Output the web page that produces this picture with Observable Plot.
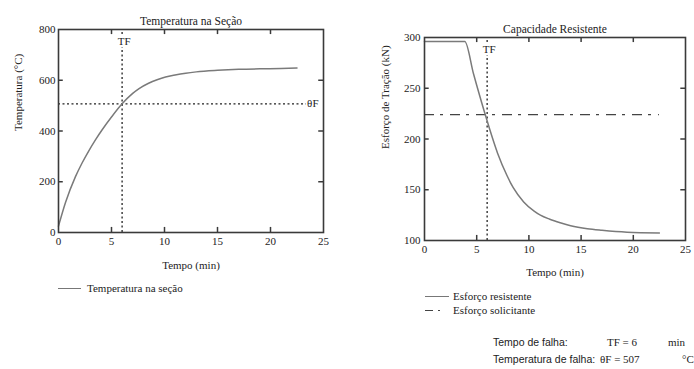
<!DOCTYPE html>
<html>
<head>
<meta charset="utf-8">
<script src="https://cdn.jsdelivr.net/npm/d3@7"></script>
<script src="https://cdn.jsdelivr.net/npm/@observablehq/plot@0.6"></script>
<style>
  html, body { margin: 0; padding: 0; background: #fff; }
  #wrap { position: relative; width: 694px; height: 369px; overflow: hidden; background: #fff; font-family: 'Liberation Serif', 'DejaVu Serif', serif; color: #222; }
  #p1, #p2 { position: absolute; top: 0; }
  #p1 { left: 0; }
  #p2 { left: 345px; }
  #wrap svg, #wrap svg text { font-family: 'Liberation Serif', 'DejaVu Serif', serif !important; }
  .txt { position: absolute; font-size: 11px; line-height: 12px; white-space: nowrap; font-family: 'Liberation Serif', 'DejaVu Serif', serif; }
  .sans { font-family: 'Liberation Sans', Arial, sans-serif; }
  .lg { position: absolute; height: 0; border-top: 1.5px solid #777; }
</style>
</head>
<body>
<div id="wrap">
  <div id="p1"></div>
  <div id="p2"></div>
</div>
<script>
// ---------- data ----------
const xTicks = [0, 5, 10, 15, 20, 25];
const innerXTicks = [5, 10, 15, 20];

// Left chart: temperature in the section
const tempTitle = "Temperatura na Seção";
const tempYLabel = "Temperatura (°C)";
const tempYTicks = [0, 200, 400, 600, 800];
const tempInnerYTicks = [200, 400, 600];
const tempTime = [0, 0.66, 1.6, 2.2, 2.86, 3.5, 4.12, 5, 6, 7, 7.6, 8.5, 9.3, 10.1, 11, 12, 13, 15, 17, 19, 21, 22.5];
const tempValue = [25, 118, 220, 272, 322, 366, 405, 455, 507, 548, 567, 588, 602, 613, 621, 628, 633, 639, 643, 645, 646, 648];

// Right chart: resisting capacity
const capTitle = "Capacidade Resistente";
const capYLabel = "Esforço de Tração (kN)";
const capYTicks = [100, 150, 200, 250, 300];
const capInnerYTicks = [150, 200, 250];
const capTime = [0, 3.86, 4.7, 5.7, 6.2, 7.0, 7.9, 8.5, 9.5, 10.5, 11.1, 12, 13, 14, 15.6, 17, 19.4, 22.5];
const capValue = [296, 296, 264, 228, 211, 186, 164, 152, 138, 129, 125, 121, 117.5, 114.5, 111.5, 110, 108.2, 107.5];
const solicitante = 224;
const solicEnd = 22.5;

// failure values
const TF = 6;
const thetaF = 507;
const thetaFLineEnd = 23.4;

const xLabel = "Tempo (min)";
const legend1 = ["Temperatura na seção"];
const legend2 = ["Esforço resistente", "Esforço solicitante"];
const infoRows = [
  ["Tempo de falha:", "TF = 6", "min"],
  ["Temperatura de falha:", "θF = 507", "°C"]
];

// ---------- helpers ----------
const FONT = "'Liberation Serif', 'DejaVu Serif', serif";
const curveColor = "#7a7a7a";
const frameColor = "#3a3a3a";
const textColor = "#222";
const styleObj = { fontFamily: FONT, fontSize: "11px", color: textColor, background: "#fff", overflow: "visible" };

function tickMarks(yDomain, innerY, xLen, yLen) {
  const [y0, y1] = yDomain;
  return [
    Plot.ruleX(innerXTicks, { x: d => d, y1: y0, y2: y0 + yLen, stroke: frameColor, strokeWidth: 1.5 }),
    Plot.ruleX(innerXTicks, { x: d => d, y1: y1, y2: y1 - yLen, stroke: frameColor, strokeWidth: 1.5 }),
    Plot.ruleY(innerY, { y: d => d, x1: 0, x2: xLen, stroke: frameColor, strokeWidth: 1.5 }),
    Plot.ruleY(innerY, { y: d => d, x1: 25, x2: 25 - xLen, stroke: frameColor, strokeWidth: 1.5 })
  ];
}
function axes(yTicks, yPad) {
  return [
    Plot.axisX(xTicks, { tickSize: 0, tickPadding: 5, label: null, fontFamily: FONT, fontSize: 11, fill: textColor }),
    Plot.axisY(yTicks, { tickSize: 0, tickPadding: yPad, label: null, fontFamily: FONT, fontSize: 11, fill: textColor })
  ];
}
function txt(s, opts) {
  return Plot.text([s], { fontFamily: FONT, fontSize: 11, fill: textColor, ...opts });
}

// ---------- left chart ----------
const tempData = tempTime.map((t, i) => ({ t, v: tempValue[i] }));
const p1 = Plot.plot({
  width: 345, height: 280,
  marginLeft: 58, marginRight: 22, marginTop: 29, marginBottom: 48,
  style: styleObj,
  x: { domain: [0, 25] },
  y: { domain: [0, 800] },
  marks: [
    ...axes(tempYTicks, 3),
    Plot.ruleY([thetaF], { x1: 0, x2: thetaFLineEnd, stroke: "#222", strokeWidth: 1.3, strokeDasharray: "2,2.5" }),
    Plot.ruleX([TF], { y1: 0, y2: 800, stroke: "#222", strokeWidth: 1.3, strokeDasharray: "2,2.5" }),
    Plot.line(tempData, { x: "t", y: "v", stroke: curveColor, strokeWidth: 1.5, curve: "monotone-x" }),
    ...tickMarks([0, 800], tempInnerYTicks, 0.45, 20),
    Plot.frame({ stroke: frameColor, strokeWidth: 1.6 }),
    txt("TF", { x: TF, frameAnchor: "top", dy: 8, dx: 2, stroke: "white", strokeWidth: 4 }),
    txt("θF", { y: thetaF, frameAnchor: "right", textAnchor: "end", dx: -5, stroke: "white", strokeWidth: 3 }),
    txt(tempTitle, { frameAnchor: "top", dy: -13, fontSize: 11.5 }),
    txt(tempYLabel, { frameAnchor: "left", dx: -40, rotate: -90 }),
    txt(xLabel, { frameAnchor: "bottom", dy: 36 })
  ]
});
document.getElementById("p1").appendChild(p1);

// ---------- right chart ----------
const capData = capTime.map((t, i) => ({ t, v: capValue[i] }));
const p2 = Plot.plot({
  width: 349, height: 290,
  marginLeft: 79, marginRight: 9, marginTop: 37, marginBottom: 50,
  style: styleObj,
  x: { domain: [0, 25] },
  y: { domain: [100, 300] },
  marks: [
    ...axes(capYTicks, 4),
    Plot.ruleY([solicitante], { x1: 0, x2: solicEnd, stroke: "#444", strokeWidth: 1.4, strokeDasharray: "10,6,3,7" }),
    Plot.ruleX([TF], { y1: 100, y2: 300, stroke: "#222", strokeWidth: 1.3, strokeDasharray: "2,2.5" }),
    Plot.line(capData, { x: "t", y: "v", stroke: curveColor, strokeWidth: 1.5, curve: "monotone-x" }),
    ...tickMarks([100, 300], capInnerYTicks, 0.45, 5),
    Plot.frame({ stroke: frameColor, strokeWidth: 1.6 }),
    txt("TF", { x: TF, frameAnchor: "top", dy: 8, dx: 2, stroke: "white", strokeWidth: 4 }),
    txt(capTitle, { frameAnchor: "top", dy: -13, fontSize: 11.5 }),
    txt(capYLabel, { frameAnchor: "left", dx: -39, dy: 10, rotate: -90 }),
    txt(xLabel, { frameAnchor: "bottom", dy: 35 })
  ]
});
document.getElementById("p2").appendChild(p2);

// ---------- legends & info (HTML) ----------
const wrap = document.getElementById("wrap");
function addDiv(cls, css, text) {
  const d = document.createElement("div");
  d.className = cls;
  Object.assign(d.style, css);
  if (text != null) d.textContent = text;
  wrap.appendChild(d);
  return d;
}
addDiv("lg", { left: "58px", top: "288px", width: "23px" });
addDiv("txt", { left: "87px", top: "282px" }, legend1[0]);

addDiv("lg", { left: "425px", top: "296px", width: "24px" });
addDiv("txt", { left: "453px", top: "290px" }, legend2[0]);
addDiv("lg", { left: "425px", top: "310px", width: "8px", borderTopColor: "#444" });
addDiv("lg", { left: "438px", top: "310px", width: "2px", borderTopColor: "#444" });
addDiv("txt", { left: "453px", top: "304px" }, legend2[1]);

const infoX = [493, 607, 668];
const infoX2 = [493, 600, 682];
infoRows.forEach((row, r) => {
  const top = r === 0 ? 336 : 353;
  const xs = r === 0 ? infoX : infoX2;
  addDiv("txt sans", { left: xs[0] + "px", top: top + "px", fontSize: "10.5px" }, row[0]);
  addDiv("txt", { left: xs[1] + "px", top: top + "px", fontSize: "11px" }, row[1]);
  addDiv("txt", { left: xs[2] + "px", top: top + "px", fontSize: "11px" }, row[2]);
});
</script>
</body>
</html>
